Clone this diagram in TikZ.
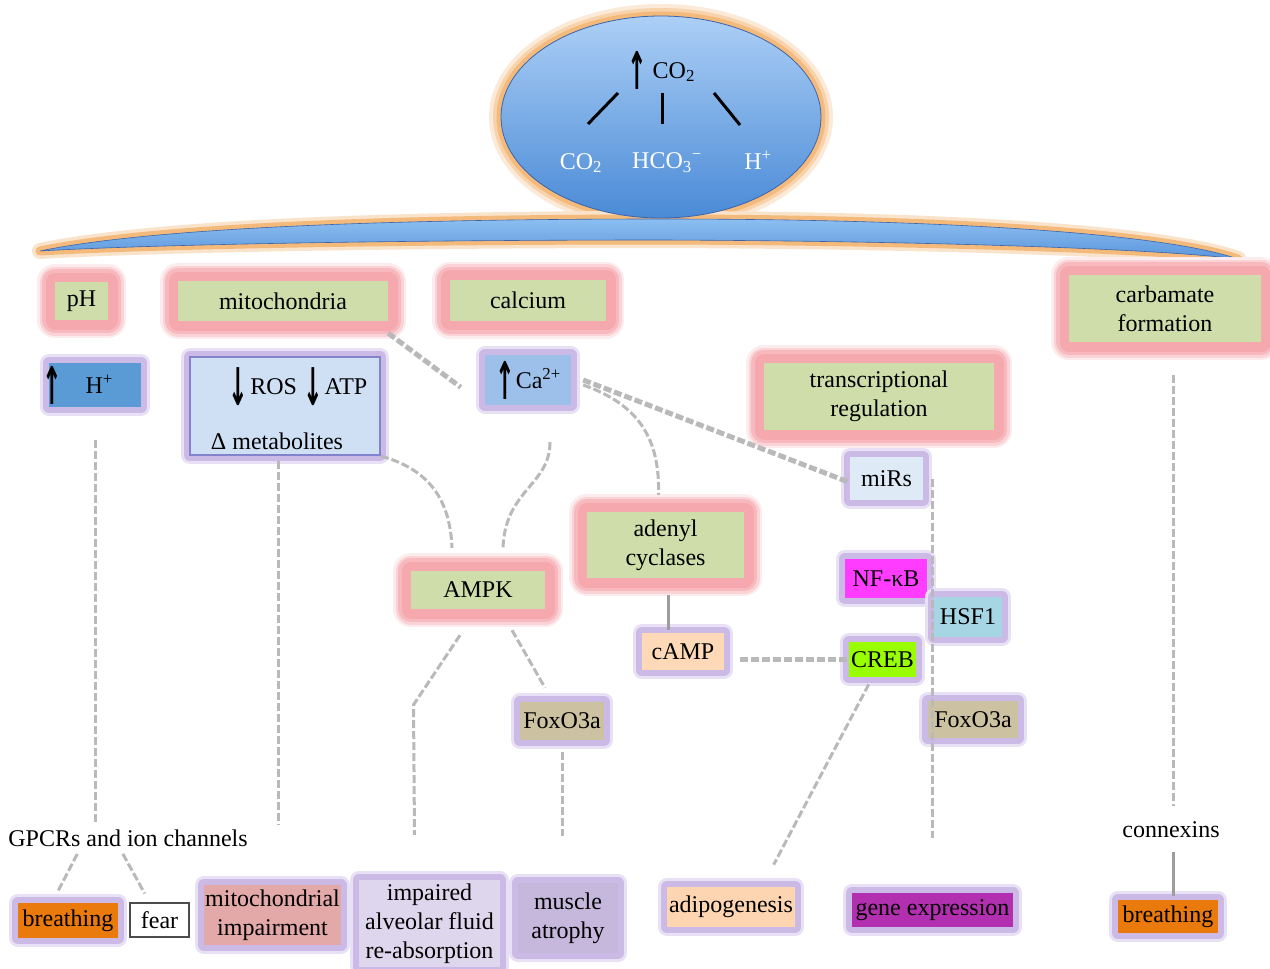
\documentclass[tikz,border=0pt]{standalone}
\usepackage{fontspec}
\usepackage{graphicx}
\setmainfont{Liberation Serif}
\newfontfamily\arrowfont{DejaVu Sans}
\usetikzlibrary{shapes.geometric,calc}
\definecolor{pinkglow}{RGB}{245,168,174}
\definecolor{lav}{RGB}{204,186,230}
\definecolor{greenf}{RGB}{207,221,170}
\definecolor{orglow}{RGB}{243,186,124}
\definecolor{elltop}{RGB}{172,207,246}
\definecolor{ellbot}{RGB}{74,138,214}
\definecolor{elledge}{RGB}{60,100,170}
\definecolor{bandtop}{RGB}{140,190,240}
\definecolor{bandbot}{RGB}{90,150,220}
\definecolor{hfill}{RGB}{91,155,213}
\definecolor{rosfill}{RGB}{207,224,245}
\definecolor{rosedge}{RGB}{130,130,205}
\definecolor{cafill}{RGB}{157,192,234}
\definecolor{mirfill}{RGB}{222,235,246}
\definecolor{nffill}{RGB}{255,60,255}
\definecolor{hsffill}{RGB}{166,214,228}
\definecolor{crebfill}{RGB}{153,255,0}
\definecolor{foxfill}{RGB}{204,193,160}
\definecolor{campfill}{RGB}{253,217,183}
\definecolor{breathfill}{RGB}{234,122,12}
\definecolor{mitoimpfill}{RGB}{227,168,168}
\definecolor{alvfill}{RGB}{222,214,236}
\definecolor{muscfill}{RGB}{197,184,220}
\definecolor{adipofill}{RGB}{253,213,177}
\definecolor{genefill}{RGB}{178,47,176}
\definecolor{dashgray}{RGB}{185,185,185}
\newcommand\upar{\raisebox{-11pt}{\scalebox{0.45}[1]{\arrowfont\bfseries\fontsize{52}{52}\selectfont ↑}}}
\newcommand\dnar{\raisebox{-11pt}{\scalebox{0.45}[1]{\arrowfont\bfseries\fontsize{52}{52}\selectfont ↓}}}
\begin{document}
\begin{tikzpicture}[x=1pt,y=-1pt,
  every node/.style={font=\fontsize{24}{29}\selectfont, inner sep=0pt, align=center},
  pglow/.style={preaction={draw=pinkglow!22, line width=36pt, line join=round},
                preaction={draw=pinkglow!50, line width=31pt, line join=round},
                preaction={draw=pinkglow!80, line width=26pt, line join=round},
                preaction={draw=pinkglow, line width=19pt, line join=round}},
  lglow/.style={preaction={draw=lav!45, line width=18pt, line join=round},
                preaction={draw=lav, line width=12pt, line join=round}},
  gbox/.style={pglow, fill=greenf},
  conn/.style={draw=dashgray, line width=3pt, dash pattern=on 8pt off 3pt},
  connw/.style={conn, line width=5pt},
  solidc/.style={draw=dashgray!85!black, line width=3pt},
  stroke/.style={draw=black, line width=3pt},
  txt/.style={inner sep=2pt}
]
\useasboundingbox (0,0) rectangle (1270,969);
\fill[white] (0,0) rectangle (1270,969);

% ellipse glow
\path[draw=orglow!30, line width=24pt] (661,117) ellipse [x radius=160pt, y radius=101pt];
\path[draw=orglow!65, line width=16pt] (661,117) ellipse [x radius=160pt, y radius=101pt];
\path[draw=orglow, line width=9pt] (661,117) ellipse [x radius=160pt, y radius=101pt];
% band
\path[preaction={draw=orglow!40, line width=16pt, line join=round},
      preaction={draw=orglow, line width=9pt, line join=round},
      top color=bandtop, bottom color=bandbot, draw=elledge, line width=0.6pt]
  (40,251) .. controls (160,226) and (420,219) .. (661,219)
  .. controls (930,219) and (1160,232) .. (1238,259)
  .. controls (1160,249) and (930,241) .. (661,240)
  .. controls (420,240) and (160,244) .. (40,251) -- cycle;
% ellipse
\node[ellipse, minimum width=320pt, minimum height=202pt, top color=elltop, bottom color=ellbot, draw=elledge, line width=0.8pt] (ell) at (661,117) {};
\node (co2top) at (661,70) {\upar\hspace{6pt}CO\textsubscript{2}};
\node[text=white] (co2a) at (581,163) {CO\textsubscript{2}};
\node[text=white] (hco3) at (667,163) {HCO\textsubscript{3}\textsuperscript{−}};
\node[text=white] (hpe) at (758,160) {H\textsuperscript{+}};
\coordinate (s1a) at (618,93); \coordinate (s1b) at (588,124);
\coordinate (s2a) at (662,93); \coordinate (s2b) at (662,124);
\coordinate (s3a) at (714,93); \coordinate (s3b) at (740,125);
\draw[stroke] (s1a) -- (s1b);
\draw[stroke] (s2a) -- (s2b);
\draw[stroke] (s3a) -- (s3b);

% green boxes
\node[gbox, minimum width=53pt, minimum height=38pt] (ph) at (81.5,301) {pH};
\node[gbox, minimum width=210pt, minimum height=40pt] (mito) at (283,301) {mitochondria};
\node[gbox, minimum width=156pt, minimum height=41pt] (calc) at (528,300) {calcium};
\node[gbox, minimum width=192pt, minimum height=67pt] (carb) at (1165,308.5) {carbamate\\formation};
\node[gbox, minimum width=230pt, minimum height=67pt] (trans) at (879,396.5) {transcriptional\\regulation};
\node[gbox, minimum width=157pt, minimum height=66pt] (adenyl) at (665.5,545) {adenyl\\cyclases};
\node[gbox, minimum width=134pt, minimum height=38pt] (ampk) at (478,590) {AMPK};

% purple-bordered boxes
\node[lglow, fill=hfill, minimum width=92pt, minimum height=44pt, text width=92pt, align=left] (hplus) at (95,385) {\hspace*{-7pt}\upar\hspace{24pt}H\textsuperscript{+}};
\node[lglow, fill=rosfill, draw=rosedge, line width=2pt, minimum width=190pt, minimum height=98pt] (rosbox) at (285,406) {};
\node (rosA) at (298,387) {\dnar\hspace{2pt}ROS \dnar\hspace{2pt}ATP};
\node (rosB) at (277,441) {Δ metabolites};
\node[lglow, fill=cafill, minimum width=86pt, minimum height=50pt] (ca) at (528,380) {\upar\hspace{1pt}Ca\textsuperscript{2+}};
\node[lglow, fill=mirfill, minimum width=73pt, minimum height=43pt] (mirs) at (886.5,478.5) {miRs};
\node[lglow, fill=nffill, minimum width=82pt, minimum height=39pt] (nfkb) at (886,578.5) {NF-κB};
\node[lglow, fill=hsffill, minimum width=68pt, minimum height=40pt] (hsf) at (968,617) {HSF1};
\node[lglow, fill=crebfill, minimum width=67pt, minimum height=35pt] (creb) at (882.5,659.5) {CREB};
\node[lglow, fill=foxfill, minimum width=90pt, minimum height=37pt] (foxR) at (973,719.5) {FoxO3a};
\node[lglow, fill=campfill, minimum width=82pt, minimum height=37pt] (camp) at (683,651.5) {cAMP};
\node[lglow, fill=foxfill, minimum width=84pt, minimum height=38pt] (foxM) at (562,721) {FoxO3a};

% bottom
\node[txt] (gpcr) at (128,838) {GPCRs and ion channels};
\node[txt] (cnx) at (1171,830) {connexins};
\node[lglow, fill=breathfill, minimum width=100pt, minimum height=35pt] (breathL) at (68,920.5) {breathing};
\node[fill=white, draw=black!70, line width=1.5pt, minimum width=59pt, minimum height=34pt] (fear) at (159.5,920) {fear};
\node[lglow, fill=mitoimpfill, minimum width=137pt, minimum height=60pt] (mitoimp) at (272.5,915) {mitochondrial\\impairment};
\node[lglow, fill=alvfill, minimum width=141pt, minimum height=87pt] (alv) at (429.5,923.5) {impaired\\alveolar fluid\\re-absorption};
\node[lglow, fill=muscfill, minimum width=100pt, minimum height=70pt] (musc) at (568,918) {muscle\\atrophy};
\node[lglow, fill=adipofill, minimum width=128pt, minimum height=40pt] (adipo) at (731,907) {adipogenesis};
\node[lglow, fill=genefill, minimum width=161pt, minimum height=34pt] (gene) at (932.5,910) {gene expression};
\node[lglow, fill=breathfill, minimum width=100pt, minimum height=33pt] (breathR) at (1168,916.5) {breathing};

% connectors
\draw[conn, shorten <=33pt, shorten >=4pt] (hplus.south) -- (hplus.south |- gpcr.north);
\draw[conn, shorten <=5pt, shorten >=60pt] ([xshift=-7pt]rosbox.south) -- ([xshift=-7pt]rosbox.south |- mitoimp.north);
\draw[connw, shorten >=30pt] ([yshift=-12pt]mito.south east) -- (ca.south west);
\draw[conn] (rosbox.south east) .. controls (430,470) and (450,500) .. ([xshift=-26pt,yshift=23pt]ampk.north);
\draw[conn] ([xshift=22pt,yshift=-37pt]ca.south) .. controls (550,485) and (505,490) .. ([xshift=25pt,yshift=23pt]ampk.north);
\draw[conn] ([xshift=12pt,yshift=-5pt]ca.east) .. controls (640,405) and (660,440) .. ([xshift=-7pt,yshift=17pt]adenyl.north);
\draw[connw] ([xshift=12pt]ca.east) -- ([yshift=-4pt]mirs.west);
\draw[solidc, shorten <=17pt, shorten >=3pt] ([xshift=3pt]adenyl.south) -- ([xshift=3pt]adenyl.south |- camp.north);
\draw[connw, shorten <=16pt] ([yshift=-8pt]camp.east) -- (creb.west);
\draw[conn, shorten >=55pt] ([xshift=9pt]mirs.east) -- ([xshift=9pt]mirs.east |- gene.north);
\draw[conn, shorten <=8pt, shorten >=25pt] ([xshift=-10pt]creb.south) -- ([xshift=31pt]adipo.north);
\draw[conn] ([xshift=-18pt,yshift=-26pt]ampk.south) -- ([xshift=-16pt,yshift=175pt]alv.north) -- ([xshift=-15pt,yshift=45pt]alv.north);
\draw[conn] ([xshift=34pt,yshift=-21pt]ampk.south) -- ([xshift=-17pt,yshift=14pt]foxM.north);
\draw[conn, shorten <=12pt, shorten >=47pt] (foxM.south) -- (foxM.south |- musc.north);
\draw[conn, shorten <=33pt, shorten >=14pt] ([xshift=8pt]carb.south) -- ([xshift=8pt]carb.south |- cnx.north);
\draw[solidc, shorten <=12pt, shorten >=4pt] ([xshift=2pt]cnx.south) -- ([xshift=2pt]cnx.south |- breathR.north);
\draw[conn, shorten <=6pt, shorten >=13pt] ([xshift=-48pt]gpcr.south) -- ([xshift=-16pt]breathL.north);
\draw[conn, shorten <=6pt, shorten >=10pt] ([xshift=-8pt]gpcr.south) -- ([xshift=-10pt]fear.north);
\end{tikzpicture}
\end{document}
